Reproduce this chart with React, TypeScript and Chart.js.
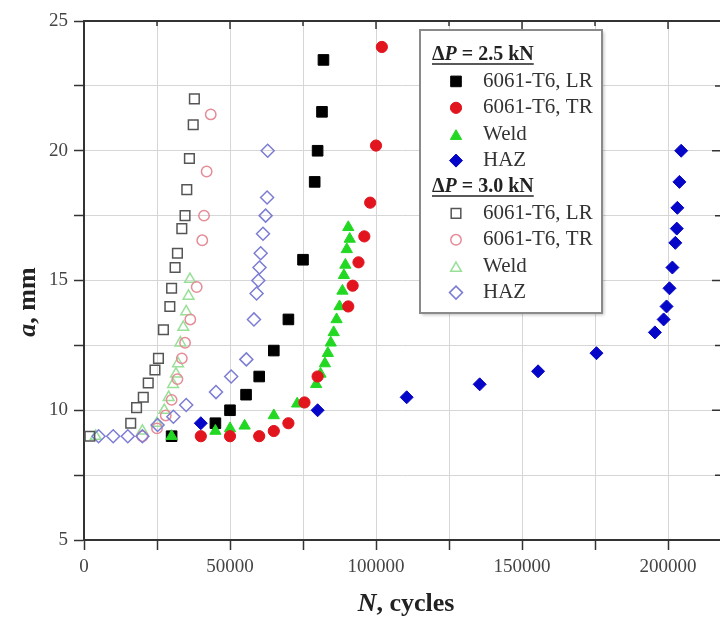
import React, { useEffect, useRef } from 'react';
import { Chart, registerables } from 'chart.js';
import { drawPoint } from 'chart.js/helpers';

Chart.register(...registerables);

const FONT = "'Liberation Serif', 'Times New Roman', serif";

// ΔP = 2.5 kN
const lr25N = [30000, 45000, 50000, 55500, 60000, 65000, 70000, 75000, 79000, 80000, 81500, 82000];
const lr25A = [9.0, 9.5, 10.0, 10.6, 11.3, 12.3, 13.5, 15.8, 18.8, 20.0, 21.5, 23.5];

const tr25N = [40000, 50000, 60000, 65000, 70000, 75500, 80000, 90500, 92000, 94000, 96000, 98000, 100000, 102000];
const tr25A = [9.0, 9.0, 9.0, 9.2, 9.5, 10.3, 11.3, 14.0, 14.8, 15.7, 16.7, 18.0, 20.2, 24.0];

const weld25N = [30000, 45000, 50000, 55000, 65000, 73000, 79500, 81000, 82500, 83500, 84500, 85500, 86500, 87500, 88500, 89000, 89500, 90000, 91000, 90500];
const weld25A = [9.0, 9.2, 9.3, 9.4, 9.8, 10.25, 11.0, 11.4, 11.8, 12.2, 12.6, 13.0, 13.5, 14.0, 14.6, 15.2, 15.6, 16.2, 16.6, 17.05];

const haz25N = [40000, 80000, 110500, 135500, 155500, 175500, 195500, 198500, 199500, 200500, 201500, 202500, 203000, 203200, 203900, 204500];
const haz25A = [9.5, 10.0, 10.5, 11.0, 11.5, 12.2, 13.0, 13.5, 14.0, 14.7, 15.5, 16.45, 17.0, 17.8, 18.8, 20.0];

// ΔP = 3.0 kN
const lr30N = [2000, 16000, 18000, 20300, 22000, 24300, 25500, 27200, 29400, 30000, 31200, 32000, 33500, 34600, 35200, 36100, 37400, 37800];
const lr30A = [9.0, 9.5, 10.1, 10.5, 11.05, 11.55, 12.0, 13.1, 14.0, 14.7, 15.5, 16.05, 17.0, 17.5, 18.5, 19.7, 21.0, 22.0];

const tr30N = [20000, 25000, 28000, 30000, 32000, 33500, 34600, 36400, 38600, 40500, 41100, 42000, 43400];
const tr30A = [9.0, 9.3, 9.8, 10.4, 11.2, 12.0, 12.6, 13.5, 14.75, 16.55, 17.5, 19.2, 21.4];

const weld30N = [4000, 20000, 25000, 27500, 29000, 30500, 31500, 32200, 33000, 34000, 35000, 35800, 36300];
const weld30A = [9.0, 9.2, 9.5, 10.0, 10.5, 11.0, 11.4, 11.8, 12.6, 13.2, 13.8, 14.4, 15.05];

const haz30N = [5000, 10000, 15000, 20000, 25200, 30600, 35000, 45200, 50400, 55600, 58200, 59100, 59700, 60100, 60500, 61300, 62200, 62700, 62900];
const haz30A = [9.0, 9.0, 9.0, 9.0, 9.43, 9.75, 10.2, 10.7, 11.3, 11.96, 13.5, 14.5, 15.0, 15.5, 16.05, 16.8, 17.5, 18.2, 20.0];

const groupTitles = ['2.5 kN', '3.0 kN'];
const seriesLabels = ['6061-T6, LR', '6061-T6, TR', 'Weld', 'HAZ'];

// x-axis tick positions (labels on every other one)
const xTickValues = [0, 25000, 50000, 75000, 100000, 125000, 150000, 175000, 200000];
const X_MAX = 217800;

type S = { label: string; group: number; N: number[]; a: number[]; style: string; r: number; color: string; fill: boolean; order: number };

const SERIES: S[] = [
  { label: seriesLabels[0], group: 0, N: lr25N, a: lr25A, style: 'rect', r: 7.5, color: '#000000', fill: true, order: 2 },
  { label: seriesLabels[1], group: 0, N: tr25N, a: tr25A, style: 'circle', r: 5.6, color: '#e2141e', fill: true, order: 0 },
  { label: seriesLabels[2], group: 0, N: weld25N, a: weld25A, style: 'triangle', r: 6.5, color: '#22d822', fill: true, order: 1 },
  { label: seriesLabels[3], group: 0, N: haz25N, a: haz25A, style: 'rectRot', r: 6.5, color: '#0606c8', fill: true, order: 3 },
  { label: seriesLabels[0], group: 1, N: lr30N, a: lr30A, style: 'rect', r: 6.8, color: '#555555', fill: false, order: 4 },
  { label: seriesLabels[1], group: 1, N: tr30N, a: tr30A, style: 'circle', r: 5.2, color: '#e58c97', fill: false, order: 6 },
  { label: seriesLabels[2], group: 1, N: weld30N, a: weld30A, style: 'triangle', r: 6.2, color: '#98e098', fill: false, order: 7 },
  { label: seriesLabels[3], group: 1, N: haz30N, a: haz30A, style: 'rectRot', r: 6.5, color: '#7c7cd4', fill: false, order: 5 },
];

type Run = { t: string; font: string };
function runsWidth(ctx: CanvasRenderingContext2D, runs: Run[]) {
  let w = 0;
  for (const r of runs) { ctx.font = r.font; w += ctx.measureText(r.t).width; }
  return w;
}
function drawRuns(ctx: CanvasRenderingContext2D, runs: Run[], x: number, y: number) {
  let cx = x;
  for (const r of runs) {
    ctx.font = r.font;
    ctx.fillText(r.t, cx, y);
    cx += ctx.measureText(r.t).width;
  }
  return cx - x;
}

const decorPlugin = {
  id: 'decor',
  afterDraw(chart: any) {
    const { ctx, chartArea: ca, scales } = chart;
    ctx.save();
    // frame top + inward ticks
    ctx.strokeStyle = '#333';
    ctx.lineWidth = 2;
    ctx.beginPath();
    ctx.moveTo(ca.left - 1, ca.top);
    ctx.lineTo(ca.right, ca.top);
    ctx.stroke();
    ctx.lineWidth = 1.5;
    ctx.beginPath();
    for (const v of xTickValues) {
      if (v === 0) continue;
      const px = scales.x.getPixelForValue(v);
      const len = v % 50000 === 0 ? 8 : 5;
      ctx.moveTo(px, ca.top);
      ctx.lineTo(px, ca.top + len);
    }
    for (let v = 7.5; v < 25; v += 2.5) {
      const py = scales.y.getPixelForValue(v);
      const len = v % 5 === 0 ? 8 : 5;
      ctx.moveTo(ca.right, py);
      ctx.lineTo(ca.right - len, py);
    }
    ctx.stroke();

    // axis titles
    ctx.fillStyle = '#222';
    ctx.textBaseline = 'middle';
    const xt: Run[] = [
      { t: 'N', font: `italic bold 26px ${FONT}` },
      { t: ', cycles', font: `bold 26px ${FONT}` },
    ];
    const xw = runsWidth(ctx, xt);
    drawRuns(ctx, xt, 406 - xw / 2, 604);
    const yt: Run[] = [
      { t: 'a', font: `italic bold 26px ${FONT}` },
      { t: ', mm', font: `bold 26px ${FONT}` },
    ];
    const yw = runsWidth(ctx, yt);
    ctx.save();
    ctx.translate(28, 302);
    ctx.rotate(-Math.PI / 2);
    drawRuns(ctx, yt, -yw / 2, 0);
    ctx.restore();

    // legend box
    const bx = 420, by = 30, bw = 182, bh = 283;
    ctx.save();
    ctx.shadowColor = 'rgba(0,0,0,0.25)';
    ctx.shadowBlur = 3;
    ctx.shadowOffsetX = 2;
    ctx.shadowOffsetY = 2;
    ctx.fillStyle = '#ffffff';
    ctx.fillRect(bx, by, bw, bh);
    ctx.restore();
    ctx.strokeStyle = '#8a8a8a';
    ctx.lineWidth = 2;
    ctx.strokeRect(bx, by, bw, bh);

    const rowH = 26.4;
    let y = 55;
    groupTitles.forEach((gt, g) => {
      const runs: Run[] = [
        { t: 'Δ', font: `bold 20px ${FONT}` },
        { t: 'P', font: `italic bold 20px ${FONT}` },
        { t: ' = ' + gt, font: `bold 20px ${FONT}` },
      ];
      ctx.fillStyle = '#222';
      ctx.textBaseline = 'middle';
      const w = drawRuns(ctx, runs, 432, y);
      ctx.strokeStyle = '#222';
      ctx.lineWidth = 1.5;
      ctx.beginPath();
      ctx.moveTo(432, y + 9);
      ctx.lineTo(432 + w, y + 9);
      ctx.stroke();
      y += rowH;
      SERIES.filter((s) => s.group === g).forEach((s) => {
        ctx.fillStyle = s.fill ? s.color : 'rgba(0,0,0,0)';
        ctx.strokeStyle = s.color;
        ctx.lineWidth = s.fill ? 1 : 1.5;
        drawPoint(ctx, { pointStyle: s.style as any, rotation: 0, radius: s.r, borderWidth: s.fill ? 1 : 1.5 } as any, 456, y + (s.style === 'triangle' ? 2 : 0));
        ctx.fillStyle = '#333';
        ctx.font = `21px ${FONT}`;
        ctx.textBaseline = 'middle';
        ctx.fillText(s.label, 483, y);
        y += rowH;
      });
    });
    ctx.restore();
  },
};

export default function App() {
  const ref = useRef<HTMLCanvasElement>(null);
  useEffect(() => {
    if (!ref.current) return;
    const datasets = SERIES.map((s) => ({
      label: s.label,
      data: s.N.map((n, i) => ({ x: n, y: s.a[i] })),
      pointStyle: s.style,
      pointRadius: s.r,
      pointHoverRadius: s.r,
      pointBorderWidth: s.fill ? 1 : 1.5,
      pointBackgroundColor: s.fill ? s.color : 'rgba(0,0,0,0)',
      pointBorderColor: s.color,
      backgroundColor: s.fill ? s.color : 'rgba(0,0,0,0)',
      borderColor: s.color,
      showLine: false,
      order: s.order,
    }));
    const tickFont = { family: FONT, size: 19 };
    const chart = new Chart(ref.current, {
      type: 'scatter',
      data: { datasets: datasets as any },
      options: {
        animation: false,
        responsive: true,
        maintainAspectRatio: false,
        events: [],
        layout: { autoPadding: false, padding: { top: 21, right: 0, left: 0, bottom: 0 } },
        plugins: { legend: { display: false }, tooltip: { enabled: false } },
        scales: {
          x: {
            type: 'linear',
            min: 0,
            max: X_MAX,
            afterFit: (s: any) => { s.height = 84; s.paddingRight = 0; },
            afterBuildTicks: (s: any) => { s.ticks = xTickValues.map((v) => ({ value: v })); },
            ticks: {
              autoSkip: false,
              maxRotation: 0,
              padding: 6,
              color: '#444',
              font: tickFont,
              callback: (v: any) => (Number(v) % 50000 === 0 ? String(v) : ''),
            },
            grid: { color: '#d6d6d6', lineWidth: 1, tickColor: '#333', tickLength: 10, tickWidth: 1.5 },
            border: { color: '#333', width: 2 },
          },
          y: {
            type: 'linear',
            min: 5,
            max: 25,
            afterFit: (s: any) => { s.width = 84; },
            ticks: {
              stepSize: 2.5,
              autoSkip: false,
              padding: 6,
              color: '#444',
              font: tickFont,
              callback: (v: any) => (Number(v) % 5 === 0 ? String(v) : ''),
            },
            grid: { color: '#d6d6d6', lineWidth: 1, tickColor: '#333', tickLength: 10, tickWidth: 1.5 },
            border: { color: '#333', width: 2 },
          },
        },
      },
      plugins: [decorPlugin],
    } as any);
    return () => chart.destroy();
  }, []);
  return (
    <div style={{ position: 'fixed', left: 0, top: 0, width: 720, height: 624, background: '#fff' }}>
      <canvas ref={ref} />
    </div>
  );
}
